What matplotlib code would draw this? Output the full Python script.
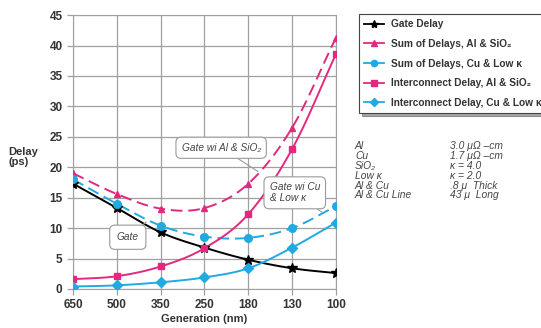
import numpy as np
import matplotlib.pyplot as plt
from matplotlib.lines import Line2D

plt.rcParams['font.family'] = ['Liberation Sans', 'DejaVu Sans']

# Data
generations = ['650', '500', '350', '250', '180', '130', '100']
gate_delay = [17.3, 13.3, 9.3, 6.8, 4.8, 3.4, 2.6]
sum_al_sio2 = [19.0, 15.6, 13.2, 13.3, 17.3, 26.5, 41.3]
sum_cu_lowk = [18.0, 14.0, 10.4, 8.6, 8.4, 10.0, 13.6]
int_al_sio2 = [1.6, 2.1, 3.7, 6.7, 12.3, 23.0, 38.6]
int_cu_lowk = [0.4, 0.6, 1.1, 1.9, 3.4, 6.8, 10.9]

param_names = ['Al', 'Cu', 'SiO\u2082', 'Low \u03ba', 'Al & Cu', 'Al & Cu Line']
param_values = ['3.0 \u03bc\u03a9 \u2013cm', '1.7 \u03bc\u03a9 \u2013cm', '\u03ba = 4.0',
                '\u03ba = 2.0', '.8 \u03bc  Thick', '43 \u03bc  Long']

MAGENTA = '#E3297F'
CYAN = '#21A9E1'


def smooth(y, n=20):
    # Catmull-Rom style smoothing like the spreadsheet's smoothed lines
    y = np.asarray(y, float)
    x = np.arange(len(y), dtype=float)
    px = np.concatenate([[2 * x[0] - x[1]], x, [2 * x[-1] - x[-2]]])
    py = np.concatenate([[2 * y[0] - y[1]], y, [2 * y[-1] - y[-2]]])
    xs, ys = [], []
    for i in range(1, len(px) - 2):
        t = np.linspace(0, 1, n, endpoint=False)
        for arr, out in ((px, xs), (py, ys)):
            p0, p1, p2, p3 = arr[i - 1], arr[i], arr[i + 1], arr[i + 2]
            out.extend(0.5 * (2 * p1 + (-p0 + p2) * t + (2 * p0 - 5 * p1 + 4 * p2 - p3) * t**2
                              + (-p0 + 3 * p1 - 3 * p2 + p3) * t**3))
    xs.append(x[-1])
    ys.append(y[-1])
    return np.array(xs), np.array(ys)


fig = plt.figure(figsize=(5.41, 3.28), dpi=100)
ax = fig.add_axes([0.135, 0.119, 0.486, 0.835])

series = [
    (gate_delay, 'black', '-', '*', 7, 'Gate Delay'),
    (sum_al_sio2, MAGENTA, (0, (6, 3)), '^', 5, 'Sum of Delays, Al & SiO\u2082'),
    (sum_cu_lowk, CYAN, (0, (6, 3)), 'o', 5.5, 'Sum of Delays, Cu & Low \u03ba'),
    (int_al_sio2, MAGENTA, '-', 's', 5, 'Interconnect Delay, Al & SiO\u2082'),
    (int_cu_lowk, CYAN, '-', 'D', 5.5, 'Interconnect Delay, Cu & Low \u03ba'),
]

x = np.arange(len(generations))
handles = []
for vals, col, ls, mk, ms, lab in series:
    sx, sy = smooth(vals)
    ax.plot(sx, sy, color=col, linestyle=ls, lw=1.4, zorder=3)
    ax.plot(x, vals, linestyle='none', marker=mk, markersize=ms, color=col,
            markeredgecolor=col, zorder=4)
    handles.append(Line2D([0], [0], color=col, lw=1.3, marker=mk, markersize=ms - 1))

ax.set_xlim(0, 6)
ax.set_ylim(0, 45)
ax.set_xticks(x)
ax.set_xticklabels(generations)
ax.set_yticks(range(0, 46, 5))
ax.grid(True, color='#a0a0a0', lw=0.9)
for s in ax.spines.values():
    s.set_color('#a0a0a0')
ax.tick_params(axis='both', colors='#a0a0a0', length=4, width=0.9, labelcolor='#333333')
for t in ax.get_xticklabels() + ax.get_yticklabels():
    t.set_fontweight('bold')
    t.set_fontsize(8.5)
ax.set_axisbelow(True)

ax.set_xlabel('Generation (nm)', fontsize=8, fontweight='bold', color='#333333', labelpad=2)
fig.text(0.015, 0.52, 'Delay\n(ps)', fontsize=8, fontweight='bold', color='#333333',
         va='center', ha='left', linespacing=1.0)

# callouts
box = dict(boxstyle='round,pad=0.55,rounding_size=0.5', fc='white', ec='#9a9a9a', lw=0.8)
arrow = dict(arrowstyle='-', color='#9a9a9a', lw=0.8, shrinkA=0, shrinkB=0)
ax.annotate('Gate wi Al & SiO\u2082', xy=(4.22, 19.3), xytext=(3.38, 23.2),
            fontsize=7.3, style='italic', color='#444444', ha='center', va='center',
            bbox=box, arrowprops=arrow, zorder=5)
ax.annotate('Gate wi Cu\n& Low \u03ba', xy=(5.68, 12.6), xytext=(5.06, 15.8),
            fontsize=7.3, style='italic', color='#444444', ha='center', va='center',
            multialignment='left', bbox=box, arrowprops=arrow, zorder=5, linespacing=1.1)
ax.annotate('Gate', xy=(1.67, 11.0), xytext=(1.25, 8.5),
            fontsize=7.3, style='italic', color='#444444', ha='center', va='center',
            bbox=dict(boxstyle='round,pad=0.7,rounding_size=0.5', fc='white', ec='#9a9a9a', lw=0.8),
            arrowprops=arrow, zorder=5)

# legend box (runs off the right edge as in the original)
leg = fig.legend(handles, [s[5] for s in series], loc='upper left',
                 bbox_to_anchor=(0.654, 0.972), frameon=True, fancybox=False,
                 shadow=True, fontsize=7.3, handlelength=2.0, labelspacing=0.95,
                 borderpad=0.5, handletextpad=0.7)
leg.get_frame().set_edgecolor('#444444')
leg.get_frame().set_linewidth(0.8)
for t in leg.get_texts():
    t.set_fontweight('bold')
    t.set_color('#333333')

# material parameters
for i, (n, v) in enumerate(zip(param_names, param_values)):
    yy = 1 - (146 + i * 9.9) / 328
    fig.text(355 / 541, yy, n, fontsize=7.4, style='italic', color='#444444', va='center')
    fig.text(450 / 541, yy, v, fontsize=7.4, style='italic', color='#444444', va='center')

fig.savefig('out.png', dpi=100)
